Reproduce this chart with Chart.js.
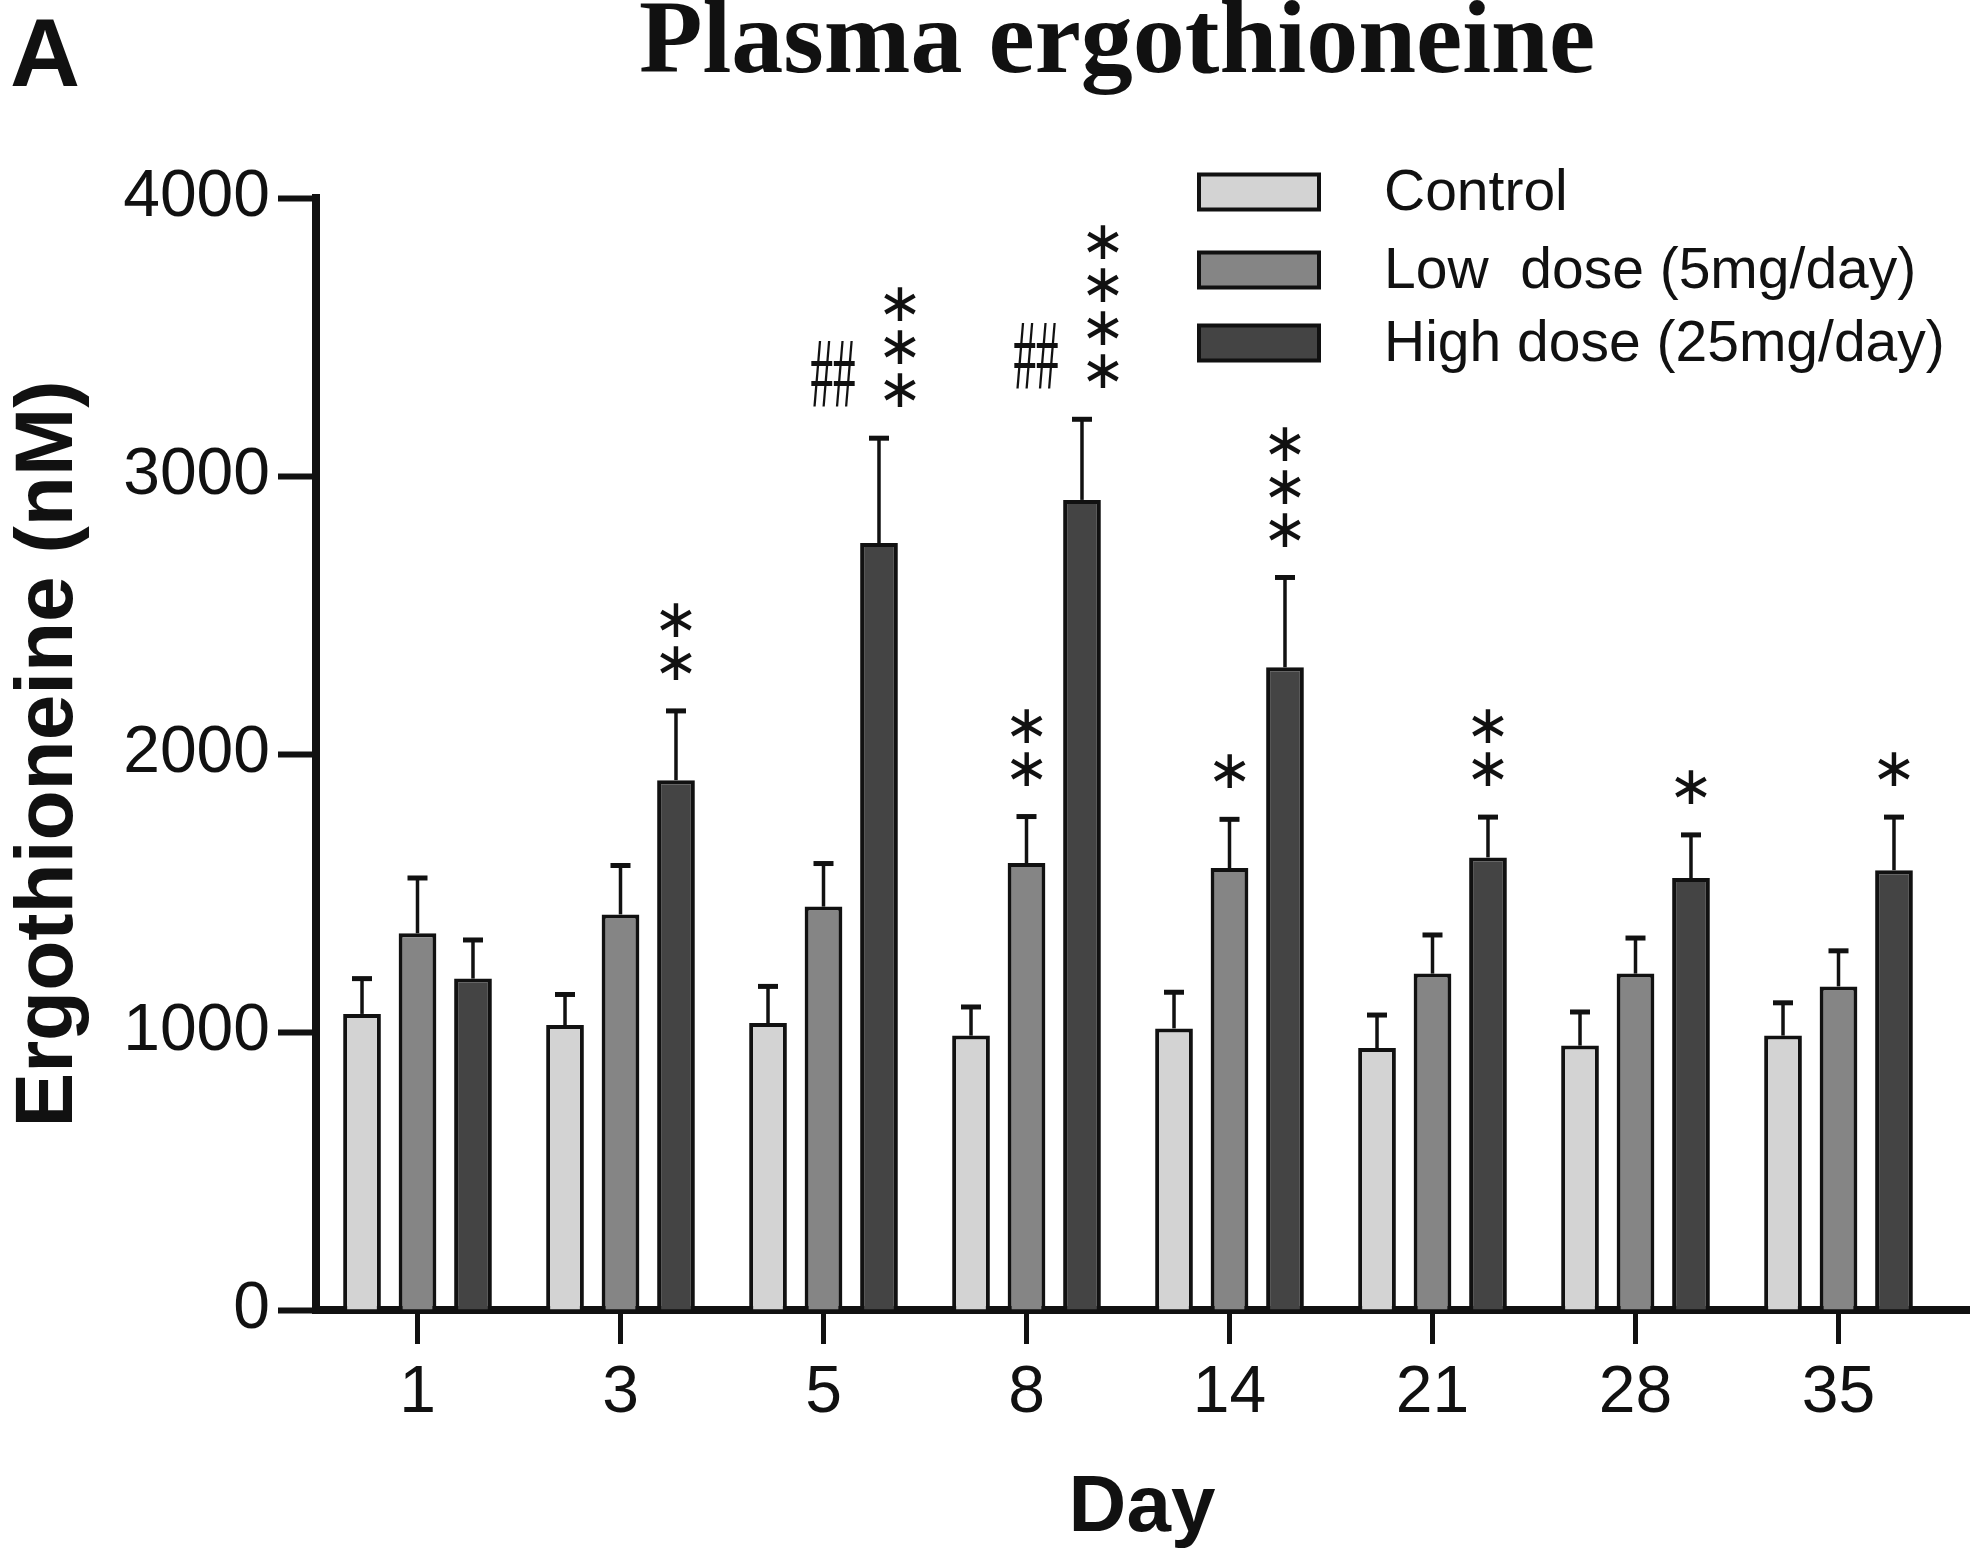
<!DOCTYPE html>
<html><head><meta charset="utf-8">
<script src="https://cdn.jsdelivr.net/npm/chart.js@4.4.1/dist/chart.umd.min.js"></script>
<style>html,body{margin:0;padding:0;background:#fff;} #wrap{width:1973px;height:1557px;position:relative;}</style>
</head><body><div id="wrap"><canvas id="c" width="1973" height="1557"></canvas></div>
<script>
const days = ['1','3','5','8','14','21','28','35'];
const seriesNames = ['Control','Low  dose (5mg/day)','High dose (25mg/day)'];
const controlMean = [1065,1025,1032,987,1013,942,951,987];
const controlSem  = [127,110,132,103,130,119,121,118];
const lowMean     = [1355,1423,1451,1608,1590,1210,1210,1164];
const lowSem      = [199,176,155,167,175,139,128,128];
const highMean    = [1192,1906,2759,2914,2312,1628,1554,1582];
const highSem     = [139,249,377,290,323,145,155,191];
const lowStars    = ['','','','**','*','','',''];
const highStars   = ['','**','***','****','***','**','*','*'];
const highHash    = ['','','##','##','','','',''];
const yTicks      = [0,1000,2000,3000,4000];
const chartTitle  = 'Plasma ergothioneine';
const panelLabel  = 'A';
const xTitle = 'Day';
const yTitle = 'Ergothioneine (nM)';

const INK = '#111111';
const fills = ['#d3d3d3','#858585','#444444'];
const sems = [controlSem, lowSem, highSem];
const means = [controlMean, lowMean, highMean];

const errorBars = {
  id:'errorBars',
  afterDatasetsDraw(chart){
    const ctx = chart.ctx, ys = chart.scales.y;
    chart.data.datasets.forEach((ds, d) => {
      const meta = chart.getDatasetMeta(d);
      meta.data.forEach((el, i) => {
        const top = ys.getPixelForValue(means[d][i] + sems[d][i]);
        ctx.save();
        ctx.strokeStyle = INK;
        ctx.lineWidth = 3.5;
        ctx.beginPath(); ctx.moveTo(el.x, el.y); ctx.lineTo(el.x, top); ctx.stroke();
        ctx.lineWidth = 5;
        ctx.beginPath(); ctx.moveTo(el.x - 10, top); ctx.lineTo(el.x + 10, top); ctx.stroke();
        ctx.restore();
      });
    });
  }
};

const annotations = {
  id:'annotations',
  afterDatasetsDraw(chart){
    const ctx = chart.ctx, ys = chart.scales.y;
    const drawStars = (d, marks, hashes) => {
      const meta = chart.getDatasetMeta(d);
      meta.data.forEach((el, i) => {
        const s = marks[i];
        const top = ys.getPixelForValue(means[d][i] + sems[d][i]);
        const hasHash = hashes && hashes[i];
        const sx = el.x + (hasHash ? 21 : 0);
        ctx.save();
        ctx.fillStyle = INK;
        ctx.font = '54px "DejaVu Sans"';
        ctx.textAlign = 'center';
        ctx.textBaseline = 'middle';
        for (let k = 0; k < s.length; k++) {
          ctx.fillText('\u2217', sx, top - 45 - k * 43);
        }
        if (hasHash) {
          ctx.translate(el.x - 46, top - 58);
          ctx.scale(0.45, 1);
          ctx.font = '100px "Liberation Serif"';
          ctx.fillText(hashes[i], 0, 0);
        }
        ctx.restore();
      });
    };
    drawStars(1, lowStars, null);
    drawStars(2, highStars, highHash);
  }
};

const decorations = {
  id:'decorations',
  afterDraw(chart){
    const ctx = chart.ctx, a = chart.chartArea;
    ctx.save();
    // extend x axis line to the right
    ctx.strokeStyle = INK; ctx.lineWidth = 8;
    ctx.beginPath(); ctx.moveTo(a.right - 2, a.bottom); ctx.lineTo(chart.width - 3, a.bottom); ctx.stroke();
    // title
    ctx.fillStyle = INK;
    ctx.textAlign = 'center'; ctx.textBaseline = 'alphabetic';
    ctx.font = 'bold 104px "Liberation Serif"';
    ctx.fillText(chartTitle, (a.left + a.right) / 2 - 11, 72);
    // x axis title
    ctx.font = 'bold 80px "Liberation Sans"';
    ctx.fillText(xTitle, (a.left + a.right) / 2 + 14, 1531);
    ctx.textAlign = 'left';
    ctx.font = 'bold 97px "Liberation Sans"';
    ctx.fillText(panelLabel, 10, 86);
    // legend
    const boxX = 1199, boxW = 120, boxH = 35;
    const centers = [192, 270, 343];
    chart.data.datasets.forEach((ds, d) => {
      const cy = centers[d];
      ctx.fillStyle = ds.backgroundColor;
      ctx.fillRect(boxX, cy - boxH/2, boxW, boxH);
      ctx.lineWidth = 4; ctx.strokeStyle = INK;
      ctx.strokeRect(boxX, cy - boxH/2, boxW, boxH);
      ctx.fillStyle = INK;
      ctx.font = '57px "Liberation Sans"';
      ctx.textBaseline = 'middle';
      ctx.fillText(ds.label, 1384, cy + 2);
    });
    ctx.restore();
  }
};

new Chart(document.getElementById('c'), {
  type:'bar',
  data:{
    labels: days,
    datasets: means.map((m, d) => ({
      label: seriesNames[d],
      data: m,
      backgroundColor: fills[d],
      borderColor: INK,
      borderWidth: 4,
      categoryPercentage: 0.82,
      barPercentage: 0.68
    }))
  },
  options:{
    responsive:false,
    animation:false,
    devicePixelRatio:1,
    layout:{padding:{left:0,right:33,top:198,bottom:0}},
    plugins:{legend:{display:false}, tooltip:{enabled:false}, title:{display:false}},
    scales:{
      x:{
        z:1,
        offset:true,
        grid:{display:true, drawOnChartArea:false, drawTicks:true, tickLength:34, tickWidth:5, tickColor:INK, offset:false},
        border:{display:true, width:8, color:INK},
        ticks:{font:{family:'"Liberation Sans"', size:66}, color:INK, padding:10, maxRotation:0},
        title:{display:false},
        afterFit(s){ s.height = 247; }
      },
      y:{
        min:0, max:4000,
        grid:{display:true, drawOnChartArea:false, drawTicks:true, tickLength:38, tickWidth:6, tickColor:INK},
        border:{display:true, width:8, color:INK},
        ticks:{font:{family:'"Liberation Sans"', size:66}, color:INK, padding:8, callback:v => String(v)},
        afterBuildTicks(s){ s.ticks = yTicks.map(v => ({value:v})); },
        title:{display:true, text:yTitle, font:{family:'"Liberation Sans"', size:82, weight:'bold'}, color:INK, padding:{top:0,bottom:0}},
        afterFit(s){ s.width = 316; }
      }
    }
  },
  plugins:[errorBars, annotations, decorations]
});
</script></body></html>
